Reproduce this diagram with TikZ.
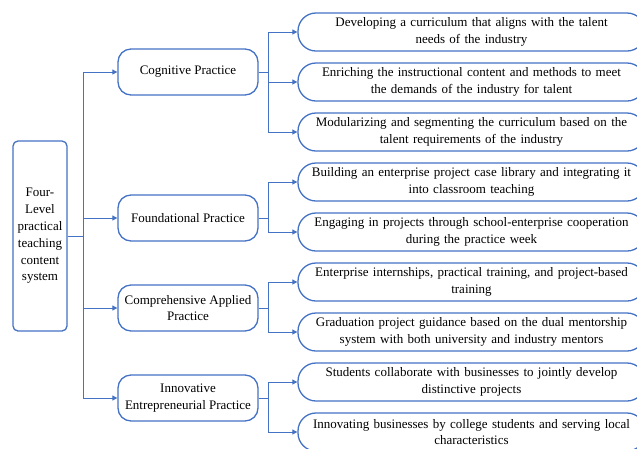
\documentclass[tikz,border=0pt]{standalone}
\usepackage{fontspec}
\setmainfont{Liberation Serif}
\usetikzlibrary{arrows.meta}
\definecolor{boxblue}{RGB}{68,114,196}

\begin{document}
\begin{tikzpicture}[x=1pt,y=-1pt,
        font=\fontsize{13}{16.8}\selectfont,
        rootbox/.style={draw=boxblue, line width=1.3pt, rounded corners=5pt, minimum width=54pt, minimum height=190pt, align=center, inner sep=0pt},
        levelbox/.style={draw=boxblue, line width=1.3pt, rounded corners=13pt, minimum width=140pt, minimum height=46pt, align=center, inner sep=0pt},
        itembox/.style={draw=boxblue, line width=1.3pt, rounded corners=18pt, minimum width=347pt, minimum height=38pt, text width=340pt, align=center, inner sep=0pt},
        link/.style={draw=boxblue, line width=0.9pt, -{Triangle[length=5pt,width=5pt]}}]
        \useasboundingbox (0,0) rectangle (637,448);
        \clip (0,0) rectangle (637,448);
        % Root
        \node[rootbox] (root) at (40,236) {Four-\\Level\\practical\\teaching\\content\\system};
        % Levels
        \node[levelbox] (cog) at (188,72) {Cognitive Practice};
        \node[levelbox] (found) at (188,218) {Foundational Practice};
        \node[levelbox] (comp) at (188,308) {Comprehensive Applied\\Practice};
        \node[levelbox] (innov) at (188,398) {Innovative\\Entrepreneurial Practice};
        % Contents
        \node[itembox] (cog1) at (471.5,32) {Developing a curriculum that aligns with the talent\\needs of the industry};
        \node[itembox] (cog2) at (471.5,82) {Enriching the instructional content and methods to meet\\the demands of the industry for talent};
        \node[itembox] (cog3) at (471.5,132) {Modularizing and segmenting the curriculum based on the\\talent requirements of the industry};
        \node[itembox] (found1) at (471.5,182) {Building an enterprise project case library and integrating it\\into classroom teaching};
        \node[itembox] (found2) at (471.5,232) {Engaging in projects through school-enterprise cooperation\\during the practice week};
        \node[itembox] (comp1) at (471.5,282) {Enterprise internships, practical training, and project-based\\training};
        \node[itembox] (comp2) at (471.5,332) {Graduation project guidance based on the dual mentorship\\system with both university and industry mentors};
        \node[itembox] (innov1) at (471.5,382) {Students collaborate with businesses to jointly develop\\distinctive projects};
        \node[itembox] (innov2) at (471.5,432) {Innovating businesses by college students and serving local\\characteristics};
        % Connectors
        \foreach \lv in {cog,found,comp,innov}
            \draw[link] (root.east) -- ++(16,0) |- (\lv.west);
        \foreach \lv/\it in {cog/cog1,cog/cog2,cog/cog3,found/found1,found/found2,comp/comp1,comp/comp2,innov/innov1,innov/innov2}
            \draw[link] (\lv.east) -- ++(10,0) |- (\it.west);
\end{tikzpicture}
\end{document}
